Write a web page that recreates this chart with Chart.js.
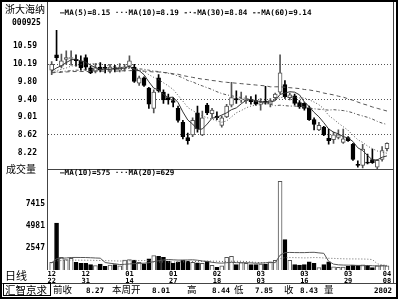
<!DOCTYPE html>
<html><head><meta charset="utf-8">
<script src="https://cdn.jsdelivr.net/npm/chart.js@4/dist/chart.umd.min.js"></script>
<style>
html,body{margin:0;padding:0;background:#fff;}
#wrap{position:relative;width:400px;height:300px;overflow:hidden;background:#fff;}
#c{position:absolute;left:0;top:0;}
.t{position:absolute;white-space:pre;color:#000;line-height:1;}
.m{font-family:"DejaVu Sans Mono","Liberation Mono",monospace;font-weight:bold;font-size:8px;}
.n{font-family:"DejaVu Sans Mono","Liberation Mono",monospace;font-weight:bold;font-size:7.5px;}
.k{font-family:"Noto Sans CJK SC",sans-serif;font-size:10px;}
</style></head><body>
<div id="wrap">
<canvas id="c" width="400" height="300"></canvas>
<div class="t k" style="left:5px;top:4px;">浙大海纳</div>
<div class="t m" style="left:12px;top:19px;">000925</div>
<div class="t m" style="left:60px;top:9px;font-size:7.6px;">—MA(5)=8.15 ···MA(10)=8.19 -·-MA(30)=8.84 --MA(60)=9.14</div>
<div class="t k" style="left:6px;top:164px;">成交量</div>
<div class="t m" style="left:60px;top:169px;font-size:7.6px;">—MA(10)=575 ···MA(20)=629</div>
<div class="t k" style="left:5px;top:270px;font-size:11px;">日线</div>
<div class="t k" style="left:5px;top:285px;font-size:10.5px;">汇智京求</div>
<div class="t k" style="left:53px;top:285px;font-size:9.5px;">前收</div>
<div class="t n" style="left:86px;top:287px;">8.27</div>
<div class="t k" style="left:112px;top:285px;font-size:9.5px;">本周开</div>
<div class="t n" style="left:152px;top:287px;">8.01</div>
<div class="t k" style="left:187px;top:285px;font-size:9.5px;">高</div>
<div class="t n" style="left:212px;top:287px;">8.44</div>
<div class="t k" style="left:234px;top:285px;font-size:9.5px;">低</div>
<div class="t n" style="left:255px;top:287px;">7.85</div>
<div class="t k" style="left:284px;top:285px;font-size:9.5px;">收</div>
<div class="t n" style="left:300px;top:287px;">8.43</div>
<div class="t k" style="left:324px;top:285px;font-size:9.5px;">量</div>
<div class="t n" style="left:374px;top:287px;">2802</div>
</div>
<script>
const dates = ['12/22','12/23','12/24','12/27','12/28','12/29','12/30','12/31','01/04','01/05','01/06','01/07','01/10','01/11','01/12','01/13','01/14','01/17','01/18','01/19','01/20','01/21','01/24','01/25','01/26','01/27','01/28','01/31','02/01','02/02','02/03','02/04','02/16','02/17','02/18','02/21','02/22','02/23','02/24','02/25','02/28','03/01','03/02','03/03','03/04','03/07','03/08','03/09','03/10','03/11','03/14','03/15','03/16','03/17','03/18','03/21','03/22','03/23','03/24','03/25','03/28','03/29','03/30','03/31','04/01','04/04','04/05','04/06','04/07','04/08'];
const tickBars = [0,7,16,25,34,43,52,61,69];
const priceTicks = [10.59,10.19,9.80,9.40,9.01,8.62,8.22];
const priceGrid = [10.19,9.40,8.62];
const volTicks = [2547,4981,7415];

const open  = [10.06,10.40,10.15,10.30,10.32,10.30,10.27,10.34,10.11,10.04, 10.13,10.11,10.04,10.11,10.06,10.11,10.15,10.13,9.77,9.89, 9.66,9.21,9.89,9.57,9.45,9.38,9.21,8.90,8.56,8.62, 9.11,8.62,9.28,9.09,9.04,8.83,9.02,9.28,9.43,9.40, 9.38,9.40,9.38,9.30,9.36,9.30,9.45,9.57,9.74,9.45, 9.49,9.34,9.32,9.21,8.96,8.73,8.79,8.54,8.51,8.56, 8.45,8.56,8.41,7.96,7.94,8.01,8.07,7.90,8.07,8.31];
const high  = [10.25,10.95,10.42,10.49,10.49,10.40,10.38,10.40,10.15,10.21, 10.23,10.19,10.19,10.17,10.21,10.19,10.38,10.19,9.93,9.91, 9.68,9.62,9.96,9.62,9.53,9.45,9.26,8.94,8.66,9.00, 9.26,9.15,9.32,9.21,9.13,9.04,9.30,9.79,9.60,9.57, 9.49,9.47,9.51,9.43,9.70,9.43,9.55,10.40,9.83,9.55, 9.53,9.38,9.34,9.26,9.00,8.90,8.81,8.75,8.68,8.73, 8.75,8.58,8.43,8.04,8.41,8.19,8.30,8.07,8.36,8.44];
const low   = [9.96,10.27,10.11,10.19,10.17,10.15,10.06,10.06,9.98,10.00, 10.02,10.00,10.00,10.02,10.02,10.04,10.11,9.79,9.72,9.70, 9.21,9.11,9.57,9.32,9.30,9.24,8.90,8.53,8.41,8.58, 8.68,8.60,9.07,9.00,8.96,8.79,9.00,9.24,9.32,9.34, 9.32,9.30,9.28,9.17,9.30,9.24,9.40,9.53,9.43,9.40, 9.28,9.21,9.17,8.94,8.73,8.71,8.60,8.41,8.43,8.53, 8.43,8.47,8.05,7.90,7.88,7.97,7.98,7.85,8.03,8.26];
const close = [10.19,10.34,10.27,10.34,10.33,10.27,10.11,10.13,10.00,10.11, 10.06,10.10,10.13,10.08,10.13,10.13,10.27,9.81,9.89,9.72, 9.30,9.57,9.60,9.40,9.40,9.34,8.94,8.58,8.49,8.94, 8.75,9.00,9.11,9.17,9.00,9.00,9.26,9.45,9.40,9.42, 9.40,9.36,9.30,9.34,9.35,9.38,9.53,10.00,9.47,9.51, 9.32,9.24,9.21,8.96,8.85,8.83,8.62,8.49,8.62,8.62, 8.53,8.49,8.07,7.94,8.30,7.99,8.00,8.05,8.27,8.43];
const volume = [950,5270,1500,1250,1400,950,850,850,700,600, 750,520,650,700,560,1200,1250,1200,950,800, 1350,1700,1620,1500,1080,850,1000,1200,1080,950, 900,850,1080,620,420,560,1500,1620,700,920, 850,700,700,760,760,1000,1180,9850,3460,1180, 700,650,700,1000,850,380,700,1000,450,400, 430,520,650,650,670,640,380,600,650,560];

const ma5  = [10.04,10.11,10.16,10.23,10.29,10.31,10.26,10.24,10.17,10.12, 10.08,10.08,10.08,10.10,10.10,10.11,10.15,10.08,10.05,9.96, 9.80,9.66,9.62,9.52,9.45,9.46,9.34,9.13,8.95,8.86, 8.74,8.75,8.86,8.99,9.01,9.06,9.11,9.18,9.22,9.31, 9.39,9.41,9.38,9.36,9.35,9.35,9.38,9.52,9.55,9.58, 9.57,9.51,9.35,9.25,9.12,9.02,8.89,8.75,8.68,8.64, 8.58,8.55,8.47,8.33,8.27,8.16,8.06,8.06,8.12,8.15];
const ma10 = [10.02,10.05,10.08,10.11,10.15,10.17,10.19,10.20,10.20,10.21, 10.20,10.17,10.16,10.13,10.11,10.10,10.11,10.08,10.07,10.03, 9.96,9.90,9.85,9.78,9.71,9.63,9.50,9.37,9.23,9.16, 9.10,9.04,9.00,8.97,8.93,8.90,8.93,9.02,9.11,9.16, 9.22,9.26,9.28,9.29,9.33,9.37,9.39,9.45,9.46,9.46, 9.46,9.44,9.44,9.40,9.35,9.29,9.20,9.05,8.97,8.88, 8.80,8.72,8.61,8.51,8.45,8.37,8.31,8.26,8.23,8.21];
const ma30 = [10.01,10.02,10.03,10.04,10.05,10.06,10.06,10.07,10.07,10.07, 10.07,10.08,10.08,10.08,10.09,10.09,10.10,10.09,10.09,10.08, 10.06,10.04,10.03,10.01,9.99,9.97,9.93,9.89,9.83,9.80, 9.75,9.71,9.67,9.63,9.58,9.54,9.51,9.49,9.47,9.45, 9.43,9.40,9.37,9.35,9.32,9.30,9.27,9.28,9.27,9.26, 9.26,9.25,9.24,9.22,9.20,9.19,9.18,9.17,9.18,9.17, 9.16,9.14,9.11,9.07,9.04,9.01,8.97,8.92,8.88,8.85];
const ma60 = [10.00,10.01,10.01,10.02,10.03,10.03,10.03,10.03,10.03,10.04, 10.04,10.04,10.04,10.04,10.04,10.05,10.05,10.05,10.05,10.04, 10.03,10.02,10.02,10.01,10.00,9.98,9.97,9.94,9.92,9.90, 9.88,9.86,9.85,9.83,9.82,9.80,9.79,9.78,9.77,9.76, 9.75,9.74,9.73,9.72,9.71,9.69,9.69,9.69,9.68,9.67, 9.66,9.65,9.63,9.62,9.60,9.58,9.55,9.53,9.51,9.48, 9.46,9.42,9.39,9.35,9.31,9.28,9.24,9.21,9.18,9.15];
const vma10 = [905,1342,1402,1437,1487,1492,1487,1482,1462,1432, 1412,937,852,797,713,738,778,813,838,858, 918,1036,1133,1213,1265,1230,1205,1205,1218,1233, 1188,1103,1049,961,895,866,916,958,920,917, 912,897,859,873,907,951,919,1742,2018,2044, 2029,2024,2024,2048,2057,1995,1947,1062,761,683, 656,643,638,603,585,611,579,539,559,575];
const vma20 = [903,1121,1151,1169,1194,1196,1194,1191,1181,1166, 1159,1140,1127,1117,1100,1115,1133,1148,1150,1145, 1165,987,993,1005,989,984,992,1009,1028,1046, 1053,1070,1091,1087,1080,1048,1061,1082,1069,1075, 1050,1000,954,917,901,909,918,1350,1469,1481, 1471,1461,1442,1461,1482,1473,1433,1402,1390,1364, 1343,1334,1331,1326,1321,1303,1263,801,660,629];

const MONO = '"DejaVu Sans Mono","Liberation Mono",monospace';
const isUp = close.map((c, i) => c >= open[i]);
const fills = isUp.map(u => u ? '#ffffff' : '#000000');
const strokes = isUp.map(u => u ? '#555555' : '#000000');
const pts = arr => arr.map((v, i) => ({x: i, y: v}));
const line = (label, arr, axis, color, dash) => ({
  type: 'line', label, data: pts(arr), yAxisID: axis, borderColor: color,
  borderWidth: 1, borderDash: dash, pointRadius: 0, tension: 0, order: 0, fill: false
});

const framePlugin = {
  id: 'frame',
  afterDraw(chart) {
    const {ctx, chartArea: a, scales} = chart;
    ctx.save();
    ctx.fillStyle = '#000';
    ctx.fillRect(0, 0, 398, 2);
    ctx.fillRect(0, 0, 2, 299);
    ctx.fillRect(0, 297, 398, 2);
    ctx.fillRect(396, 0, 2, 299);
    ctx.strokeStyle = '#444';
    ctx.lineWidth = 1;
    ctx.beginPath();
    ctx.moveTo(a.left - 0.5, 2); ctx.lineTo(a.left - 0.5, a.bottom);
    ctx.moveTo(a.right + 0.5, 2); ctx.lineTo(a.right + 0.5, 283);
    const sy = Math.round(scales.y.bottom) - 0.5;
    ctx.moveTo(a.left, sy); ctx.lineTo(a.right, sy);
    ctx.moveTo(2, 283.5); ctx.lineTo(396, 283.5);
    ctx.stroke();
    ctx.strokeStyle = '#000';
    ctx.strokeRect(3.5, 283.5, 47, 12);
    ctx.restore();
  }
};

new Chart(document.getElementById('c'), {
  type: 'bar',
  data: {
    datasets: [
      line('MA5', ma5, 'y', '#333', []),
      line('MA10', ma10, 'y', '#555', [1, 2]),
      line('MA30', ma30, 'y', '#555', [3, 2, 1, 2]),
      line('MA60', ma60, 'y', '#555', [4, 3]),
      {type: 'bar', label: 'body', data: close.map((c, i) => ({x: i, y: [open[i], c]})), yAxisID: 'y',
       barThickness: 4, backgroundColor: fills, borderColor: strokes, borderWidth: 1, borderSkipped: false,
       grouped: false, minBarLength: 1, order: 1},
      {type: 'bar', label: 'wick', data: high.map((h, i) => ({x: i, y: [low[i], h]})), yAxisID: 'y',
       barThickness: 1, backgroundColor: strokes, borderWidth: 0, grouped: false, order: 2},
      {type: 'bar', label: 'vol', data: pts(volume), yAxisID: 'yv',
       barThickness: 4, backgroundColor: fills, borderColor: strokes, borderWidth: 1, borderSkipped: false,
       grouped: false, order: 1},
      line('VMA10', vma10, 'yv', '#555', []),
      line('VMA20', vma20, 'yv', '#666', [1, 2])
    ]
  },
  options: {
    responsive: false, animation: false, devicePixelRatio: 1,
    layout: {padding: {top: 3, right: 7, bottom: 0, left: 0}},
    plugins: {legend: {display: false}, tooltip: {enabled: false}},
    scales: {
      x: {
        type: 'linear', min: -0.76, max: 70.24, offset: false,
        afterBuildTicks: s => { s.ticks = tickBars.map(v => ({value: v})); },
        afterFit: s => { s.height = 30; },
        ticks: {autoSkip: false, maxRotation: 0, padding: 1, color: '#000',
                font: {family: MONO, size: 7, weight: 'bold', lineHeight: 1},
                callback: v => dates[v] ? dates[v].split('/') : ''},
        grid: {display: false, drawTicks: false, offset: false}, border: {display: false}
      },
      yv: {
        type: 'linear', position: 'left', stack: 'main', stackWeight: 105,
        min: 113, max: 11100,
        afterBuildTicks: s => { s.ticks = volTicks.map(v => ({value: v})); },
        afterFit: s => { s.width = 48; },
        ticks: {padding: 3, color: '#000', font: {family: MONO, size: 8, weight: 'bold'},
                callback: v => String(v)},
        grid: {display: false, drawTicks: false}, border: {display: false}
      },
      y: {
        type: 'linear', position: 'left', stack: 'main', stackWeight: 162,
        min: 7.835, max: 11.272,
        afterBuildTicks: s => { s.ticks = priceTicks.map(v => ({value: v})); },
        afterFit: s => { s.width = 48; },
        ticks: {padding: 11, color: '#000', font: {family: MONO, size: 8, weight: 'bold'},
                callback: v => v.toFixed(2)},
        grid: {drawTicks: false, lineWidth: 1,
               color: ctx => (ctx.tick && priceGrid.includes(ctx.tick.value)) ? '#555' : 'rgba(0,0,0,0)'},
        border: {display: false, dash: [1, 2]}
      }
    }
  },
  plugins: [framePlugin]
});
</script>
</body></html>
